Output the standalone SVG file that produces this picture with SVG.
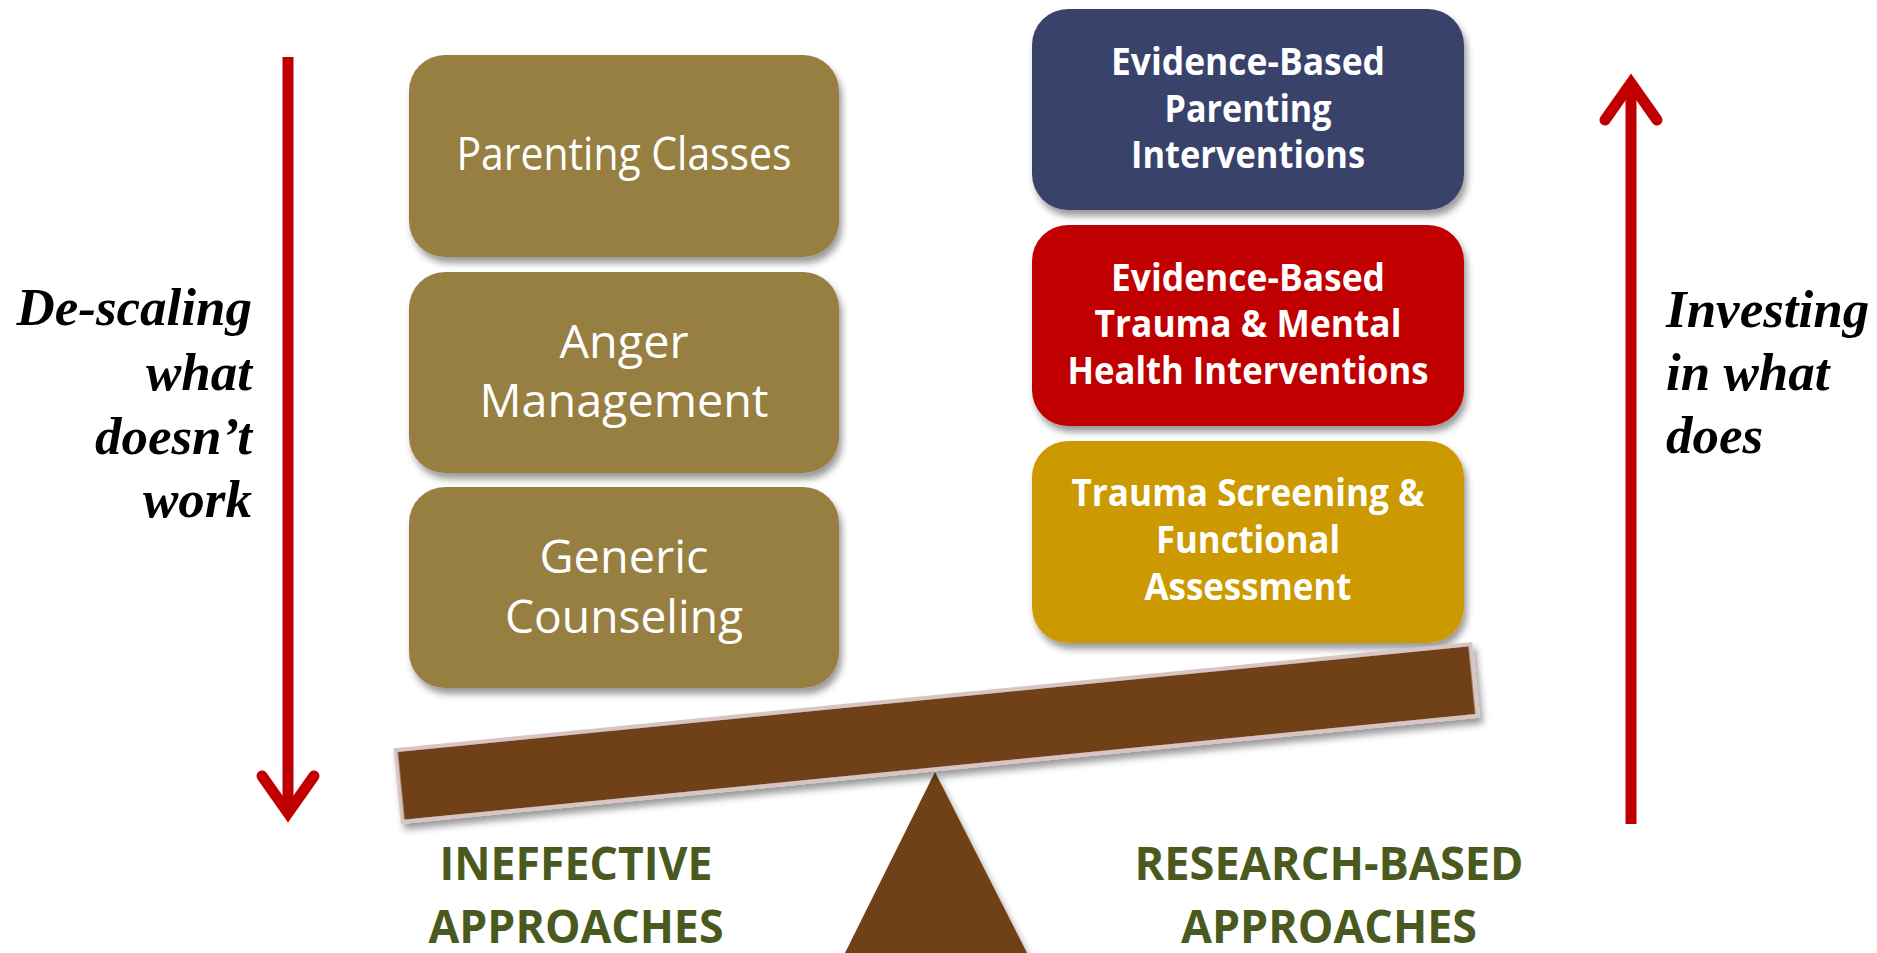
<svg xmlns="http://www.w3.org/2000/svg" width="1877" height="953" viewBox="0 0 1877 953">
<defs>
<filter id="sh" x="-10%" y="-10%" width="130%" height="140%">
<feDropShadow dx="3" dy="6" stdDeviation="3.5" flood-color="#000" flood-opacity="0.4"/>
</filter>
</defs>
<style>
.lbox{fill:#977F43;filter:url(#sh)}
.lt{font-family:"Open Sans","Noto Sans",sans-serif;fill:#fff;text-anchor:middle;font-size:46px}
.rt{font-family:"Open Sans","Noto Sans",sans-serif;fill:#fff;text-anchor:middle;font-size:37px;font-weight:700}
.side{font-family:"Liberation Serif","Times New Roman",serif;font-style:italic;font-weight:700;font-size:53px;fill:#000}
.bot{font-family:"Open Sans","Noto Sans",sans-serif;fill:#4A5A1E;text-anchor:middle;font-size:46px;font-weight:700}
.arr{stroke:#C00000;stroke-width:11;fill:none}
.wood{fill:#6F3F12}
</style>
<rect width="1877" height="953" fill="#fff"/>

<g id="connectors">
<g id="arrow-down">
<line class="arr" x1="288" y1="57" x2="288" y2="812"/>
<path class="arr" d="M262,776 L288,813 L314,776" stroke-linecap="round" stroke-linejoin="miter"/>
</g>
<g id="arrow-up">
<line class="arr" x1="1631" y1="824" x2="1631" y2="84"/>
<path class="arr" d="M1605,120 L1631,83 L1657,120" stroke-linecap="round" stroke-linejoin="miter"/>
</g>
</g>

<g id="label-descaling">
<text class="side" text-anchor="end" x="252" y="325">De-scaling</text>
<text class="side" text-anchor="end" x="252" y="390">what</text>
<text class="side" text-anchor="end" x="252" y="454">doesn’t</text>
<text class="side" text-anchor="end" x="252" y="517">work</text>
</g>
<g id="label-investing">
<text class="side" x="1666" y="327">Investing</text>
<text class="side" x="1666" y="390">in what</text>
<text class="side" x="1666" y="453">does</text>
</g>

<g id="node-parenting-classes">
<rect class="lbox" x="409" y="55" width="430" height="202" rx="36"/>
<text class="lt" x="624" y="170" font-size="42" textLength="335" lengthAdjust="spacingAndGlyphs">Parenting Classes</text>
</g>
<g id="node-anger-management">
<rect class="lbox" x="409" y="272" width="430" height="201" rx="36"/>
<text class="lt" x="624" y="358" textLength="129" lengthAdjust="spacingAndGlyphs">Anger</text>
<text class="lt" x="624" y="417" textLength="289" lengthAdjust="spacingAndGlyphs">Management</text>
</g>
<g id="node-generic-counseling">
<rect class="lbox" x="409" y="487" width="430" height="201" rx="36"/>
<text class="lt" x="624" y="573" textLength="169" lengthAdjust="spacingAndGlyphs">Generic</text>
<text class="lt" x="624" y="633" textLength="238" lengthAdjust="spacingAndGlyphs">Counseling</text>
</g>

<g id="node-ebp-parenting">
<rect x="1032" y="9" width="432" height="201" rx="36" fill="#37436A" filter="url(#sh)"/>
<text class="rt" x="1248" y="75" textLength="274" lengthAdjust="spacingAndGlyphs">Evidence-Based</text>
<text class="rt" x="1248" y="122" textLength="167" lengthAdjust="spacingAndGlyphs">Parenting</text>
<text class="rt" x="1248" y="168" textLength="234" lengthAdjust="spacingAndGlyphs">Interventions</text>
</g>
<g id="node-ebp-trauma">
<rect x="1032" y="225" width="432" height="201" rx="36" fill="#C00000" filter="url(#sh)"/>
<text class="rt" x="1248" y="291" textLength="274" lengthAdjust="spacingAndGlyphs">Evidence-Based</text>
<text class="rt" x="1248" y="337" textLength="307" lengthAdjust="spacingAndGlyphs">Trauma &amp; Mental</text>
<text class="rt" x="1248" y="384" textLength="361" lengthAdjust="spacingAndGlyphs">Health Interventions</text>
</g>
<g id="node-trauma-screening">
<rect x="1032" y="441" width="432" height="202" rx="36" fill="#CC9900" filter="url(#sh)"/>
<text class="rt" x="1248" y="506" textLength="353" lengthAdjust="spacingAndGlyphs">Trauma Screening &amp;</text>
<text class="rt" x="1248" y="553" textLength="184" lengthAdjust="spacingAndGlyphs">Functional</text>
<text class="rt" x="1248" y="600" textLength="207" lengthAdjust="spacingAndGlyphs">Assessment</text>
</g>

<g id="fulcrum">
<polygon class="wood" points="935,772 845,953 1027,953" filter="url(#sh)"/>
</g>
<g id="beam">
<rect class="wood" x="396.5" y="697" width="1080" height="72" transform="rotate(-5.63 936.5 733)" stroke="#D8C4C2" stroke-width="4" filter="url(#sh)"/>
</g>

<g id="label-ineffective">
<text class="bot" x="576" y="880" textLength="273" lengthAdjust="spacingAndGlyphs">INEFFECTIVE</text>
<text class="bot" x="576" y="943" textLength="295" lengthAdjust="spacingAndGlyphs">APPROACHES</text>
</g>
<g id="label-research">
<text class="bot" x="1329" y="880" textLength="389" lengthAdjust="spacingAndGlyphs">RESEARCH-BASED</text>
<text class="bot" x="1329" y="943" textLength="296" lengthAdjust="spacingAndGlyphs">APPROACHES</text>
</g>
</svg>
